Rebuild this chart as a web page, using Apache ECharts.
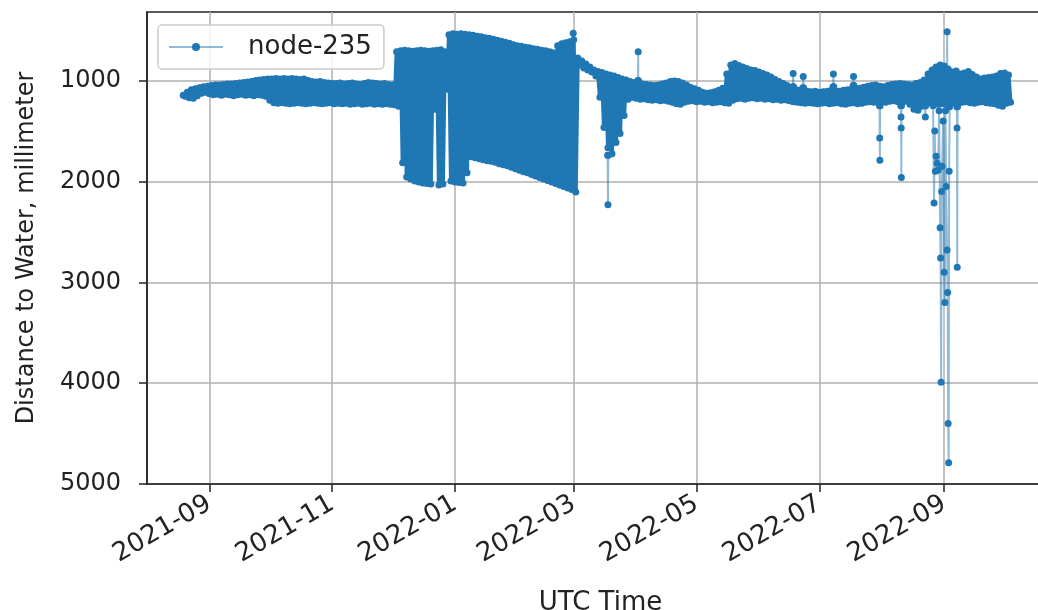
<!DOCTYPE html>
<html>
<head>
<meta charset="utf-8">
<script src="https://cdn.jsdelivr.net/npm/echarts@6/dist/echarts.min.js"></script>
<style>
  html, body { margin: 0; padding: 0; background: #ffffff; overflow: hidden; }
  /* the axes box runs slightly past the right edge of the window */
  #chart { width: 1060px; height: 610px; }
</style>
</head>
<body>
<div id="chart"></div>
<script>
// Water level sensor node-235: distance from sensor to water surface (mm).
const seriesName = 'node-235';

// Regular readings, one pair per two-day slot starting on this day:
// the shallowest and deepest distance seen in that slot.
const firstSampleDay = '2021-08-19';
const sampleStepDays = 2;

const bandUpper = [
  1145, 1115, 1090, 1080, 1070, 1060, 1055, 1050, 1045, 1045,
  1040, 1035, 1035, 1030, 1025, 1020, 1015, 1010, 1000, 995,
  990, 985, 985, 980, 985, 980, 985, 980, 985, 990,
  985, 1000, 1010, 1015, 1010, 1020, 1025, 1030, 1030, 1025,
  1035, 1030, 1025, 1035, 1040, 1030, 1020, 1025, 1030, 1035,
  1030, 1040, 1045, 715, 705, 700, 705, 710, 705, 700,
  705, 710, 705, 700, 695, 715, 545, 535, 540, 535,
  540, 545, 550, 560, 565, 575, 580, 590, 600, 610,
  620, 630, 645, 655, 660, 670, 675, 685, 690, 700,
  705, 715, 725, 655, 635, 625, 615, 595, 775, 805,
  835, 865, 895, 910, 920, 935, 945, 955, 970, 985,
  995, 1010, 1020, 1025, 1035, 1040, 1045, 1050, 1045, 1035,
  1025, 1010, 1005, 1010, 1025, 1045, 1065, 1080, 1095, 1115,
  1125, 1120, 1110, 1095, 1075, 935, 845, 830, 850, 865,
  880, 895, 900, 915, 930, 945, 965, 990, 1010, 1030,
  1050, 1070, 1085, 1095, 1100, 1105, 1110, 1105, 1115, 1110,
  1105, 1095, 1100, 1105, 1095, 1090, 1085, 1080, 1075, 1065,
  1055, 1050, 1045, 1055, 1060, 1050, 1040, 1035, 1030, 1035,
  1040, 1045, 1030, 1020, 995, 935, 895, 865, 845, 855,
  885, 915, 905, 935, 925, 910, 940, 965, 985, 975,
  970, 965, 955, 930, 925, 945
];

const bandLower = [
  1155, 1170, 1175, 1150, 1125, 1115, 1130, 1140, 1135, 1145,
  1135, 1140, 1150, 1140, 1135, 1145, 1140, 1150, 1140, 1145,
  1155, 1195, 1220, 1225, 1220, 1225, 1230, 1225, 1220, 1225,
  1230, 1225, 1220, 1225, 1230, 1225, 1220, 1230, 1225, 1230,
  1225, 1235, 1230, 1225, 1235, 1230, 1225, 1235, 1230, 1235,
  1230, 1235, 1240, 1255, 1815, 1955, 1975, 1995, 2005, 2015,
  2020, 2025, 1285, 2035, 2025, 1085, 1995, 2005, 2010, 2015,
  1915, 1755, 1765, 1775, 1785, 1795, 1800, 1810, 1825, 1835,
  1845, 1860, 1875, 1890, 1905, 1915, 1930, 1945, 1960, 1975,
  1990, 2005, 2020, 2035, 2050, 2065, 2080, 2105, 845, 875,
  895, 915, 955, 1165, 1465, 1665, 1725, 1615, 1525, 1345,
  1185, 1165, 1175, 1185, 1180, 1190, 1195, 1190, 1200, 1195,
  1205, 1215, 1230, 1235, 1215, 1205, 1200, 1210, 1205, 1215,
  1210, 1220, 1215, 1210, 1220, 1225, 1195, 1180, 1175, 1185,
  1175, 1170, 1180, 1175, 1185, 1180, 1190, 1185, 1195, 1190,
  1200, 1210, 1215, 1220, 1225, 1220, 1225, 1230, 1225, 1220,
  1230, 1225, 1220, 1230, 1235, 1225, 1220, 1230, 1225, 1215,
  1210, 1215, 1205, 1210, 1215, 1205, 1200, 1210, 1215, 1205,
  1235, 1285, 1295, 1255, 1225, 1220, 1225, 1235, 1230, 1235,
  1230, 1220, 1225, 1215, 1210, 1220, 1225, 1215, 1210, 1220,
  1225, 1230, 1245, 1255, 1225, 1215
];

// Isolated excursions away from the normal level; null ends a run.
const excursionTimes = [
  '2022-02-28T16:00', '2022-02-28T18:00', null,
  '2022-03-17T20:00', '2022-03-18T00:00', '2022-03-18T04:00', null,
  '2022-04-01T22:00', '2022-04-02T00:00', '2022-04-02T02:00', null,
  '2022-06-17T20:00', '2022-06-18T00:00', '2022-06-18T04:00', null,
  '2022-06-22T20:00', '2022-06-23T00:00', '2022-06-23T04:00', null,
  '2022-07-07T20:00', '2022-07-08T00:00', '2022-07-08T04:00', null,
  '2022-07-17T20:00', '2022-07-18T00:00', '2022-07-18T04:00', null,
  '2022-07-30T22:00', '2022-07-31T00:00', '2022-07-31T02:00', '2022-07-31T04:00', null,
  '2022-08-10T12:00', '2022-08-10T14:00', '2022-08-10T16:00', '2022-08-10T18:00', '2022-08-10T20:00', null,
  '2022-08-22T12:00', '2022-08-22T16:00', '2022-08-22T20:00', null,
  '2022-08-26T12:00', '2022-08-27T00:00', '2022-08-27T08:00', '2022-08-27T16:00',
  '2022-08-28T00:00', '2022-08-28T12:00', '2022-08-29T00:00', '2022-08-29T12:00',
  '2022-08-30T00:00', '2022-08-30T06:00', '2022-08-30T12:00', '2022-08-30T18:00',
  '2022-08-31T00:00', '2022-08-31T12:00', '2022-09-01T00:00', '2022-09-01T08:00',
  '2022-09-01T16:00', '2022-09-02T00:00', '2022-09-02T12:00', '2022-09-02T18:00',
  '2022-09-03T00:00', '2022-09-03T06:00', '2022-09-03T12:00', '2022-09-03T18:00', null,
  '2022-09-02T10:00', '2022-09-02T12:00', '2022-09-02T14:00', null,
  '2022-09-07T08:00', '2022-09-07T10:00', '2022-09-07T12:00', '2022-09-07T16:00'
];

const excursionValues = [
  900, 530, null,
  1740, 2230, 1740, null,
  1000, 715, 1000, null,
  1060, 930, 1060, null,
  1070, 960, 1070, null,
  1060, 935, 1060, null,
  1050, 960, 1050, null,
  1250, 1570, 1790, 1250, null,
  1250, 1360, 1470, 1960, 1250, null,
  1250, 1360, 1250, null,
  1250, 2215, 1500, 1900,
  1750, 1820, 1890, 1300,
  2460, 2760, 3990, 2100,
  1850, 1400, 2900, 3200,
  1300, 2050, 2680, 3100,
  4400, 4790, 1900, 1260, null,
  950, 516, 950, null,
  1260, 1470, 2850, 1260
];

const monthTicks = ['2021-09-01', '2021-11-01', '2022-01-01', '2022-03-01', '2022-05-01', '2022-07-01', '2022-09-01'];
const depthTicks = [1000, 2000, 3000, 4000, 5000];

// ---- build series data (all times in UTC, as epoch milliseconds) ----
const DAY = 86400000;
function utc(s) {
  return Date.parse(s.length === 10 ? s + 'T00:00:00Z' : s + ':00Z');
}

const bandData = [];
const t0 = utc(firstSampleDay);
bandUpper.forEach(function (v, i) {
  const t = t0 + i * sampleStepDays * DAY;
  bandData.push([t, v]);
  bandData.push([t + DAY, bandLower[i]]);
});

const excursionData = excursionTimes.map(function (s, i) {
  return s === null ? ['-', '-'] : [utc(s), excursionValues[i]];
});

const monthTickTimes = monthTicks.map(utc);

const FONT = 'DejaVu Sans';
const INK = '#222222';
const BLUE = '#1f77b4';

const chart = echarts.init(document.getElementById('chart'), null, { renderer: 'canvas' });
chart.setOption({
  animation: false,
  backgroundColor: '#ffffff',
  grid: {
    left: 147, top: 12, width: 907, height: 472,
    outerBoundsMode: 'none',
    show: true, borderColor: INK, borderWidth: 1.5, backgroundColor: '#ffffff'
  },
  legend: {
    left: 158, top: 25,
    padding: [9, 12, 9, 10],
    itemWidth: 54, itemHeight: 10,
    backgroundColor: 'rgba(255,255,255,0.85)',
    borderColor: '#cccccc', borderWidth: 1.5, borderRadius: 4,
    textStyle: { fontFamily: FONT, fontSize: 26, color: INK, padding: [0, 0, 0, 20] },
    data: [seriesName]
  },
  xAxis: {
    type: 'value',
    min: utc('2021-08-01'),
    max: utc('2022-10-25T14:00'),
    name: 'UTC Time', nameLocation: 'middle', nameGap: 106,
    nameTextStyle: { fontFamily: FONT, fontSize: 26, color: INK, verticalAlign: 'top' },
    axisLine: { show: true, onZero: false, lineStyle: { color: INK, width: 1.5 } },
    axisTick: { show: true, length: 8, lineStyle: { color: INK, width: 1.5 }, customValues: monthTickTimes },
    axisLabel: {
      customValues: monthTickTimes, rotate: 30, margin: 18,
      fontFamily: FONT, fontSize: 26, color: INK,
      formatter: function (val) {
        const d = new Date(val);
        return d.getUTCFullYear() + '-' + String(d.getUTCMonth() + 1).padStart(2, '0');
      }
    },
    splitLine: { show: true, lineStyle: { color: '#b0b0b0', width: 1.5 } }
  },
  yAxis: {
    type: 'value', inverse: true, min: 320, max: 5000,
    name: 'Distance to Water, millimeter', nameLocation: 'middle', nameGap: 108,
    nameTextStyle: { fontFamily: FONT, fontSize: 24, color: INK },
    axisLine: { show: true, onZero: false, lineStyle: { color: INK, width: 1.5 } },
    axisTick: { show: true, length: 8, lineStyle: { color: INK, width: 1.5 }, customValues: depthTicks },
    axisLabel: {
      customValues: depthTicks, margin: 26, fontFamily: FONT, fontSize: 24, color: INK,
      formatter: function (val) { return String(val); }
    },
    splitLine: { show: true, lineStyle: { color: '#b0b0b0', width: 1.5 } }
  },
  series: [
    {
      name: seriesName, type: 'line', data: excursionData,
      symbol: 'circle', symbolSize: 7, showSymbol: true, showAllSymbol: true,
      connectNulls: false,
      lineStyle: { color: 'rgba(31,119,180,0.5)', width: 2 },
      itemStyle: { color: BLUE },
      emphasis: { disabled: true }, z: 2
    },
    {
      name: seriesName, type: 'line', data: bandData,
      symbol: 'circle', symbolSize: 7, showSymbol: true, showAllSymbol: true,
      lineStyle: { color: BLUE, width: 4 },
      itemStyle: { color: BLUE },
      emphasis: { disabled: true }, z: 3
    }
  ]
});
</script>
</body>
</html>
